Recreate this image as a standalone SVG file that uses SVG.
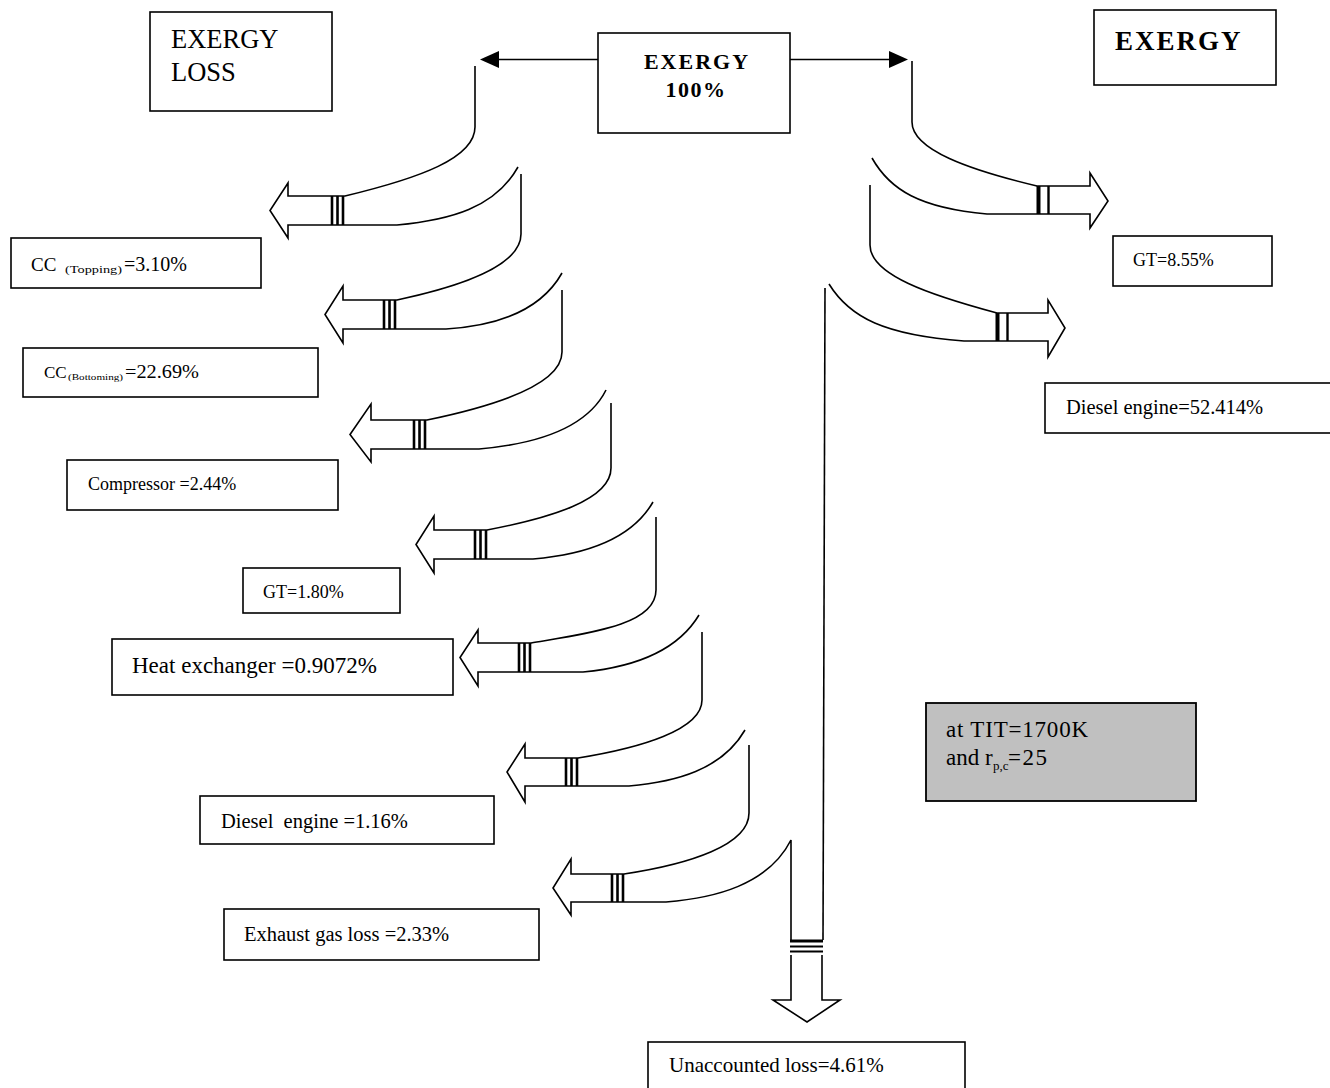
<svg xmlns="http://www.w3.org/2000/svg" width="1330" height="1088" viewBox="0 0 1330 1088">
<style>
.box{fill:#fff;stroke:#000;stroke-width:1.6}
.gray{fill:#c0c0c0;stroke:#000;stroke-width:1.8}
.ln{fill:none;stroke:#000;stroke-width:1.6;stroke-linejoin:miter}
.st{stroke:#000;stroke-width:2.6}
.t{font-family:"Liberation Serif","Times New Roman",serif;fill:#000}
.b{font-weight:bold}
</style>
<rect width="1330" height="1088" fill="#fff"/>

<g id="connectors">
  <!-- top arrows -->
  <line class="ln" x1="598" y1="59.5" x2="497" y2="59.5" stroke-width="2"/>
  <polygon points="499,51 480,59.5 499,68" fill="#000"/>
  <line class="ln" x1="790" y1="59.5" x2="891" y2="59.5" stroke-width="2"/>
  <polygon points="889,51 908,59.5 889,68" fill="#000"/>

  <!-- left branch 1 -->
  <path class="ln" d="M475,66 L475,127 C475,158 420,178 345,196 L288,196 L288,183 L270,210.5 L288,238 L288,225 L397,225 C450,220 495,208 518,167"/>
  <g class="st"><line x1="332" y1="196" x2="332" y2="225"/><line x1="337.5" y1="196" x2="337.5" y2="225"/><line x1="343" y1="196" x2="343" y2="225"/></g>
  <!-- left branch 2 -->
  <path class="ln" d="M521,174 L521,234 C521,266 458,287 397,300 L343,300 L343,286 L325,314.5 L343,343 L343,329 L446,329 C495,326 540,312 562,273"/>
  <g class="st"><line x1="384" y1="300" x2="384" y2="329"/><line x1="389.5" y1="300" x2="389.5" y2="329"/><line x1="395" y1="300" x2="395" y2="329"/></g>
  <!-- left branch 3 -->
  <path class="ln" d="M562,290 L562,352 C562,386 490,407 427,420 L371,420 L371,404 L350,434.5 L371,462 L371,449 L479,449 C525,445 585,432 606,390"/>
  <g class="st"><line x1="414" y1="420" x2="414" y2="449"/><line x1="419.5" y1="420" x2="419.5" y2="449"/><line x1="425" y1="420" x2="425" y2="449"/></g>
  <!-- left branch 4 -->
  <path class="ln" d="M611,403 L611,468 C611,500 550,518 487,530 L434,530 L434,516 L416,544.5 L434,573 L434,559 L533,559 C580,555 630,542 653,502"/>
  <g class="st"><line x1="475" y1="530" x2="475" y2="559"/><line x1="480.5" y1="530" x2="480.5" y2="559"/><line x1="486" y1="530" x2="486" y2="559"/></g>
  <!-- left branch 5 -->
  <path class="ln" d="M656,517 L656,590 C656,625 590,633 531,643 L478,643 L478,630 L460,657.5 L478,686 L478,672 L583,672 C625,668 675,655 699,615"/>
  <g class="st"><line x1="519" y1="643" x2="519" y2="672"/><line x1="524.5" y1="643" x2="524.5" y2="672"/><line x1="530" y1="643" x2="530" y2="672"/></g>
  <!-- left branch 6 -->
  <path class="ln" d="M702,632 L702,700 C702,730 640,748 578,758 L525,758 L525,744 L507,772 L525,802 L525,786 L629,786 C675,782 722,770 745,730"/>
  <g class="st"><line x1="566" y1="758" x2="566" y2="786"/><line x1="571.5" y1="758" x2="571.5" y2="786"/><line x1="577" y1="758" x2="577" y2="786"/></g>
  <!-- left branch 7 -->
  <path class="ln" d="M749,745 L749,813 C749,845 690,864 624,874 L571,874 L571,859 L553,888 L571,915 L571,902 L666,902 C715,898 768,885 791,840 L791,940"/>
  <g class="st"><line x1="612" y1="874" x2="612" y2="902"/><line x1="617.5" y1="874" x2="617.5" y2="902"/><line x1="623" y1="874" x2="623" y2="902"/></g>

  <!-- unaccounted vertical arrow -->
  <path class="ln" d="M825,288 L823,940"/>
  <g class="st"><line x1="790" y1="941" x2="823" y2="941" stroke-width="3"/><line x1="790" y1="946.5" x2="823" y2="946.5" stroke-width="2"/><line x1="790" y1="951.5" x2="823" y2="951.5" stroke-width="2"/></g>
  <path class="ln" d="M791,955 L791,1000 L773,1000 L807,1022 L840,1000 L822,1000 L822,955"/>

  <!-- right branch 1 -->
  <path class="ln" d="M912,61 L912,122 C912,150 970,170 1037,186 L1090,186 L1090,173 L1108,201 L1090,228 L1090,214 L987,214 C920,208 890,190 872,158"/>
  <g class="st"><line x1="1038.5" y1="186" x2="1038.5" y2="214" stroke-width="4"/><line x1="1048.5" y1="186" x2="1048.5" y2="214" stroke-width="2.4"/></g>
  <!-- right branch 2 -->
  <path class="ln" d="M870,185 L870,245 C870,275 930,295 997,313 L1048,313 L1048,300 L1065,328 L1048,357 L1048,341 L964,341 C885,335 850,318 829,284"/>
  <g class="st"><line x1="997.5" y1="313" x2="997.5" y2="341" stroke-width="4"/><line x1="1007.5" y1="313" x2="1007.5" y2="341" stroke-width="2.4"/></g>
</g>

<g id="exergy-loss-title">
  <rect class="box" x="150" y="12" width="182" height="99"/>
  <text class="t" x="171" y="48" font-size="26.5">EXERGY</text>
  <text class="t" x="171" y="81" font-size="26.5">LOSS</text>
</g>
<g id="exergy-100">
  <rect class="box" x="598" y="33" width="192" height="100"/>
  <text class="t b" x="697" y="69" font-size="22" letter-spacing="2" text-anchor="middle">EXERGY</text>
  <text class="t b" x="696" y="97" font-size="22" letter-spacing="1.5" text-anchor="middle">100%</text>
</g>
<g id="exergy-title">
  <rect class="box" x="1094" y="10" width="182" height="75"/>
  <text class="t b" x="1115" y="50" font-size="27" letter-spacing="2">EXERGY</text>
</g>

<g id="cc-topping">
  <rect class="box" x="11" y="238" width="250" height="50"/>
  <text class="t" y="271"><tspan x="31" font-size="19">CC</tspan><tspan x="65" y="273" font-size="10" textLength="57" lengthAdjust="spacingAndGlyphs">(Topping)</tspan><tspan x="124" y="271" font-size="20">=3.10%</tspan></text>
</g>
<g id="cc-bottoming">
  <rect class="box" x="23" y="348" width="295" height="49"/>
  <text class="t" y="378"><tspan x="44" font-size="17">CC</tspan><tspan x="68" y="380" font-size="9" textLength="55" lengthAdjust="spacingAndGlyphs">(Bottoming)</tspan><tspan x="125" y="378" font-size="18" textLength="74" lengthAdjust="spacingAndGlyphs">=22.69%</tspan></text>
</g>
<g id="compressor">
  <rect class="box" x="67" y="460" width="271" height="50"/>
  <text class="t" x="88" y="490" font-size="18">Compressor =2.44%</text>
</g>
<g id="gt-loss">
  <rect class="box" x="243" y="568" width="157" height="45"/>
  <text class="t" x="263" y="598" font-size="18">GT=1.80%</text>
</g>
<g id="heat-exchanger">
  <rect class="box" x="112" y="639" width="341" height="56"/>
  <text class="t" x="132" y="673" font-size="23">Heat exchanger =0.9072%</text>
</g>
<g id="diesel-loss">
  <rect class="box" x="200" y="796" width="294" height="48"/>
  <text class="t" x="221" y="828" font-size="20.5" xml:space="preserve">Diesel  engine =1.16%</text>
</g>
<g id="exhaust">
  <rect class="box" x="224" y="909" width="315" height="51"/>
  <text class="t" x="244" y="941" font-size="20.5">Exhaust gas loss =2.33%</text>
</g>
<g id="unaccounted">
  <rect class="box" x="648" y="1042" width="317" height="52"/>
  <text class="t" x="669" y="1072" font-size="21">Unaccounted loss=4.61%</text>
</g>
<g id="gt-exergy">
  <rect class="box" x="1113" y="236" width="159" height="50"/>
  <text class="t" x="1133" y="266" font-size="18">GT=8.55%</text>
</g>
<g id="diesel-exergy">
  <rect class="box" x="1045" y="383" width="295" height="50"/>
  <text class="t" x="1066" y="414" font-size="20.5">Diesel engine=52.414%</text>
</g>
<g id="conditions">
  <rect class="gray" x="926" y="703" width="270" height="98"/>
  <text class="t" x="946" y="737" font-size="23" letter-spacing="0.8">at TIT=1700K</text>
  <text class="t" y="765" font-size="23"><tspan x="946">and</tspan><tspan x="985">r</tspan><tspan x="993" y="770" font-size="13">p,c</tspan><tspan x="1008" y="765" letter-spacing="1.5">=25</tspan></text>
</g>
</svg>
